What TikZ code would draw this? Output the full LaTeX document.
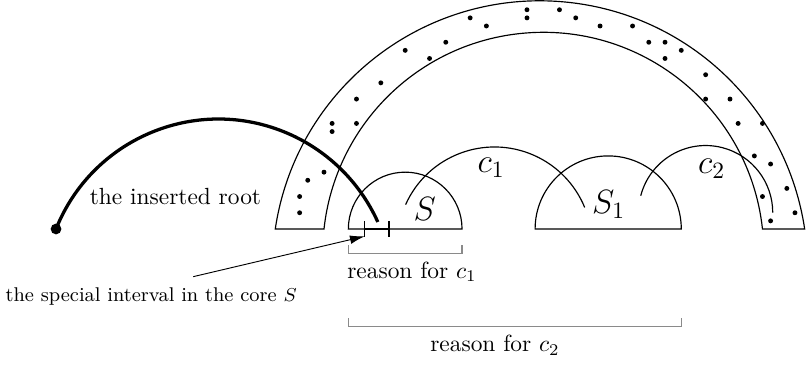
\documentclass[tikz,border=0pt]{standalone}
\usepackage{amsmath}
\usetikzlibrary{arrows.meta}
\definecolor{bracketgray}{HTML}{8A8A8A}
\tikzset{
  arch/.style={
    draw=black,
    line width=0.5pt,
  },
  grain/.style={
    circle,
    fill=black,
    inner sep=0pt,
    minimum size=2.1pt,
  },
  root dot/.style={
    circle,
    fill=black,
    inner sep=0pt,
    minimum size=4.6pt,
  },
  root line/.style={
    draw=black,
    line width=1.4pt,
  },
  interval/.style={
    draw=black,
    line width=1.2pt,
  },
  pointer/.style={
    -{Latex[length=2.2mm,width=1.3mm]},
    draw=black,
    line width=0.4pt,
  },
  bracket/.style={
    draw=bracketgray,
    line width=0.5pt,
  },
  plain text/.style={
    inner sep=0pt,
    font=\normalsize,
  },
  note text/.style={
    inner sep=0pt,
    font=\fontsize{8.5pt}{10pt}\selectfont,
  },
  core label/.style={
    inner sep=0pt,
    font=\Large,
  },
}
\begin{document}
\begin{tikzpicture}[x=0.122cm,y=0.122cm]
  \useasboundingbox (-33.90,-16.87) rectangle (65.36,28.20);

  % The dotted arch.
  \draw[arch] (0,0) arc[start angle=171.52, end angle=8.48, radius=32.96]
    -- (60,0) arc[start angle=6.21, end angle=173.79, radius=27.16] -- cycle;
  \foreach \gx/\gy in {31/27,31/26,35/27,24/26,26/25,37/26,40/25,44/25,
                       21/23,19/21,46/23,48/23,50/22,48/21,16/22,13/18,
                       10/16,7/13,7/12,10/13,6/7,4/6,3/4,3/2,
                       53/19,53/16,56/16,57/13,60/13,59/9,61/8,63/5,
                       60/4,64/2,61/1}{
    \node[grain] (g\gx-\gy) at (\gx,\gy) {};
  }

  % Cores S and S_1.
  \draw[arch] (9,0) arc[start angle=180, end angle=0, radius=7] -- cycle;
  \draw[arch] (32,0) arc[start angle=180, end angle=0, radius=9] -- cycle;

  % Arcs c_1 and c_2.
  \draw[arch] (16.05,3.0) arc[start angle=155.9, end angle=22.3, radius=12];
  \draw[arch] (45.01,4.10) arc[start angle=165.4, end angle=0, radius=8.26];

  % The inserted root and its special interval.
  \node[root dot] (root) at (-27,0) {};
  \draw[root line] (root.center) arc[start angle=158.2, end angle=24.3, radius=21.54];
  \coordinate (int l) at (11,0);
  \coordinate (int r) at (14,0);
  \draw[interval] (int l) -- (int r);
  \draw[arch] (int l) ++(0,1) -- ++(0,-2);
  \draw[arch] (int r) ++(0,1) -- ++(0,-2);

  % Labels.
  \node[plain text, anchor=base] (root label) at (-12.29,2.96) {the inserted root};
  \node[core label, anchor=base] (S label) at (18.4,1.1) {$S$};
  \node[core label, anchor=base] (c1 label) at (26.6,6.93) {$c_1$};
  \node[core label, anchor=base] (S1 label) at (41.07,1.93) {$S_1$};
  \node[core label, anchor=base] (c2 label) at (53.74,6.86) {$c_2$};

  \node[note text, anchor=base] (note) at (-15.28,-8.95) {the special interval in the core $S$};
  \coordinate (note tail) at (-10.1,-5.87);
  \draw[pointer] (note tail) -- ([yshift=-0.11cm]int l);

  % Brackets for the reasons.
  \draw[bracket] (9,-2) -- (9,-3) -- (23,-3) -- (23,-2);
  \node[plain text, anchor=base] (reason one) at (16.84,-6.07) {reason for $c_1$};
  \draw[bracket] (9,-11) -- (9,-12) -- (50,-12) -- (50,-11);
  \node[plain text, anchor=base] (reason two) at (27.06,-15.11) {reason for $c_2$};
\end{tikzpicture}
\end{document}
